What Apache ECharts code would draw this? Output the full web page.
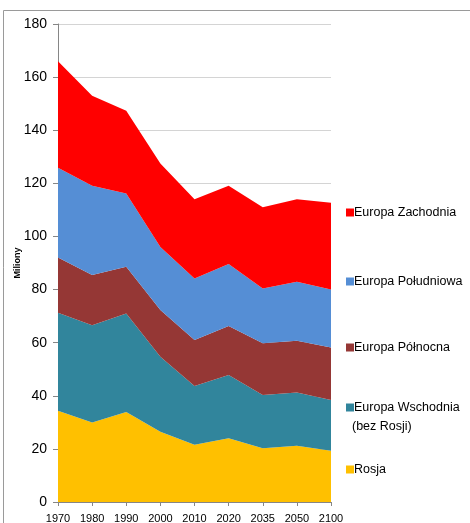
<!DOCTYPE html>
<html><head><meta charset="utf-8">
<script src="https://cdn.jsdelivr.net/npm/echarts@6/dist/echarts.min.js"></script>
<style>html,body{margin:0;padding:0;background:#fff}#c{width:470px;height:523px}</style>
</head><body><div id="c"></div>
<script>
const years = ['1970','1980','1990','2000','2010','2020','2035','2050','2100'];
const rosja = [34.4, 29.9, 33.9, 26.5, 21.6, 24.0, 20.2, 21.2, 19.3];
const wschodnia = [36.9, 36.7, 37.1, 28.2, 22.1, 23.8, 20.1, 20.0, 19.1];
const polnocna = [20.8, 18.9, 17.6, 17.6, 17.3, 18.5, 19.5, 19.5, 19.8];
const poludniowa = [33.8, 33.6, 27.6, 23.7, 23.2, 23.3, 20.6, 22.2, 21.8];
const zachodnia = [40.1, 33.9, 31.1, 31.5, 29.8, 29.5, 30.6, 31.1, 32.7];
const seriesNames = ['Rosja', 'Europa Wschodnia', 'Europa Północna', 'Europa Południowa', 'Europa Zachodnia'];
const seriesData = [rosja, wschodnia, polnocna, poludniowa, zachodnia];
const colors = ['#FFC000', '#31859C', '#953735', '#558ED5', '#FF0000'];
const legendTops = {'Europa Zachodnia': 201, 'Europa Południowa': 270, 'Europa Północna': 336, 'Europa Wschodnia': 396, 'Rosja': 458};

const chart = echarts.init(document.getElementById('c'), null, {renderer: 'canvas'});
const font = '"Liberation Sans", Arial, sans-serif';
const legends = seriesNames.map(n => ({
  data: [n], left: 341, top: legendTops[n], orient: 'vertical',
  itemWidth: 8, itemHeight: 8, icon: 'rect', itemGap: 4,
  textStyle: {fontFamily: font, fontSize: 12.5, color: '#000', padding: [0,0,0,-5]},
  selectedMode: false
}));
chart.setOption({
  animation: false,
  color: colors,
  legend: legends,
  grid: {left: 58, right: 139, top: 24, bottom: 21, containLabel: false, outerBoundsMode: 'none'},
  xAxis: {
    type: 'category', data: years, boundaryGap: false,
    axisLine: {show: true, lineStyle: {color: '#868686'}},
    axisTick: {show: true, alignWithLabel: true, length: 4, lineStyle: {color: '#868686'}},
    axisLabel: {fontFamily: font, fontSize: 11, color: '#000', margin: 11, interval: 0, hideOverlap: false}
  },
  yAxis: {
    type: 'value', min: 0, max: 180, interval: 20,
    name: 'Miliony', nameLocation: 'middle', nameGap: 36, nameRotate: 90, nameMoveOverlap: false,
    nameTextStyle: {fontFamily: font, fontSize: 9, fontWeight: 'bold', color: '#000'},
    axisLine: {show: true, lineStyle: {color: '#868686'}},
    axisTick: {show: true, length: 5, lineStyle: {color: '#868686'}},
    axisLabel: {fontFamily: font, fontSize: 14, color: '#000', margin: 11},
    splitLine: {show: true, lineStyle: {color: '#D4D4D4', width: 1}}
  },
  series: seriesNames.map((n, i) => ({
    name: n, type: 'line', stack: 'total', data: seriesData[i],
    symbol: 'none', lineStyle: {width: 0}, areaStyle: {color: colors[i], opacity: 1},
    itemStyle: {color: colors[i]}
  })),
  graphic: [
    {type: 'rect', shape: {x: 3.5, y: 10.5, width: 480, height: 530}, style: {fill: 'none', stroke: '#9A9A9A', lineWidth: 1}, silent: true},
    {type: 'text', left: 352, top: 420, style: {text: '(bez Rosji)', font: '12.5px ' + font, fill: '#000'}}
  ]
});
</script></body></html>
